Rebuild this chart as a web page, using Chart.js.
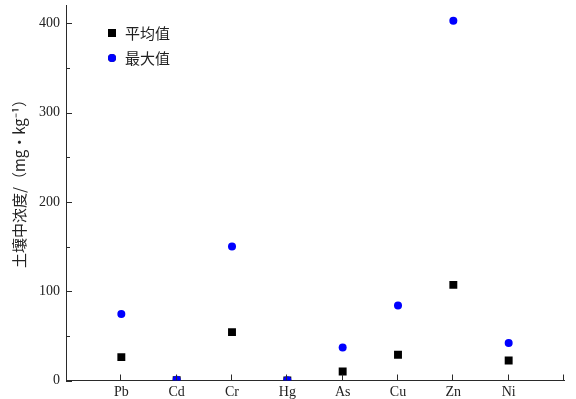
<!DOCTYPE html>
<html>
<head>
<meta charset="utf-8">
<script src="https://cdn.jsdelivr.net/npm/chart.js@4.4.1/dist/chart.umd.min.js"></script>
<style>
  html, body { margin: 0; padding: 0; background: #fff; }
  #wrap { width: 576px; height: 399px; position: relative; }
</style>
</head>
<body>
<div id="wrap"><canvas id="c"></canvas></div>
<script>
// Heavy metal concentrations in soil (mg·kg⁻¹)
const elements = ['Pb', 'Cd', 'Cr', 'Hg', 'As', 'Cu', 'Zn', 'Ni'];
const meanValues = [26.2, 0.3, 54.2, 0.1, 10.1, 28.8, 107.1, 22.4];
const maxValues = [74.6, 0.8, 150.0, 0.4, 36.9, 83.9, 402.9, 41.9];
const yTicks = [0, 100, 200, 300, 400];
const yMinorTicks = [50, 150, 250, 350];
const seriesNames = ['平均值', '最大值'];
const yTitle = '土壤中浓度/（mg·kg⁻¹）';

const AXIS_COLOR = '#2a2a2a';
const SERIF = '"Liberation Serif", "DejaVu Serif", serif';
const CJK = '"Noto Sans CJK SC", sans-serif';

const toPoints = vals => vals.map((v, i) => ({ x: i + 1, y: v }));

// Inward tick marks, minor ticks, rotated axis title and inset legend
const decorations = {
  id: 'decorations',
  afterDraw(chart) {
    const ctx = chart.ctx;
    const xs = chart.scales.x, ys = chart.scales.y;
    const area = chart.chartArea;
    ctx.save();
    ctx.strokeStyle = AXIS_COLOR;
    ctx.lineWidth = 1;
    ctx.beginPath();
    yTicks.forEach(v => {
      const p = Math.round(ys.getPixelForValue(v)) + 0.5;
      ctx.moveTo(area.left, p); ctx.lineTo(area.left + 6, p);
    });
    yMinorTicks.forEach(v => {
      const p = Math.round(ys.getPixelForValue(v)) + 0.5;
      ctx.moveTo(area.left, p); ctx.lineTo(area.left + 4, p);
    });
    const xTickVals = elements.map((_, i) => i + 1).concat([xs.max]);
    xTickVals.forEach(v => {
      const p = Math.round(xs.getPixelForValue(v)) - 0.5;
      ctx.moveTo(p, area.bottom); ctx.lineTo(p, area.bottom - 6);
    });
    ctx.stroke();

    // y-axis title
    ctx.fillStyle = '#222';
    ctx.font = '15px ' + CJK;
    ctx.textAlign = 'center';
    ctx.textBaseline = 'middle';
    ctx.translate(19, 180);
    ctx.rotate(-Math.PI / 2);
    ctx.fillText(yTitle, 0, 0);
    ctx.restore();

    // legend
    ctx.save();
    ctx.font = '15px ' + CJK;
    ctx.textBaseline = 'middle';
    ctx.textAlign = 'left';
    chart.data.datasets.forEach((ds, i) => {
      const cx = 112, cy = 33 + i * 25;
      Chart.helpers.drawPoint(ctx, {
        pointStyle: ds.pointStyle,
        radius: ds.pointRadius,
        rotation: 0,
        borderWidth: 0
      }, cx, cy);
      ctx.fillStyle = ds.backgroundColor;
      ctx.fill();
      ctx.fillStyle = '#222';
      ctx.fillText(ds.label, cx + 13, cy);
    });
    ctx.restore();
  }
};

new Chart(document.getElementById('c'), {
  type: 'scatter',
  data: {
    datasets: [
      {
        label: seriesNames[0],
        data: toPoints(meanValues),
        pointStyle: 'rect',
        pointRadius: 5.6,
        pointHoverRadius: 5.6,
        backgroundColor: '#000000',
        borderWidth: 0,
        order: 1
      },
      {
        label: seriesNames[1],
        data: toPoints(maxValues),
        pointStyle: 'circle',
        pointRadius: 4,
        pointHoverRadius: 4,
        backgroundColor: '#0000ff',
        borderWidth: 0,
        order: 0
      }
    ]
  },
  options: {
    responsive: true,
    maintainAspectRatio: false,
    animation: false,
    layout: { padding: { left: 0, right: 12, top: 5.4, bottom: 0 } },
    plugins: {
      legend: { display: false },
      tooltip: { enabled: false }
    },
    scales: {
      x: {
        type: 'linear',
        position: 'bottom',
        min: 0,
        max: elements.length + 1,
        grid: { display: false, drawTicks: false },
        border: { display: true, color: AXIS_COLOR, width: 1 },
        afterBuildTicks(scale) {
          scale.ticks = elements.map((_, i) => ({ value: i + 1 }));
        },
        afterFit(scale) {
          scale.height = 18.5;
          scale.paddingLeft = 0;
          scale.paddingRight = 0;
        },
        ticks: {
          autoSkip: false,
          maxRotation: 0,
          padding: 3,
          color: '#222',
          font: { family: SERIF, size: 14 },
          callback: v => elements[v - 1] ?? ''
        }
      },
      y: {
        type: 'linear',
        min: 0,
        max: 420,
        grid: { display: false, drawTicks: false },
        border: { display: true, color: AXIS_COLOR, width: 1 },
        afterBuildTicks(scale) {
          scale.ticks = yTicks.map(v => ({ value: v }));
        },
        afterFit(scale) {
          scale.width = 66;
          scale.paddingTop = 0;
          scale.paddingBottom = 0;
        },
        ticks: {
          padding: 6,
          color: '#222',
          font: { family: SERIF, size: 14 },
          callback: v => String(v)
        }
      }
    }
  },
  plugins: [decorations]
});
</script>
</body>
</html>
